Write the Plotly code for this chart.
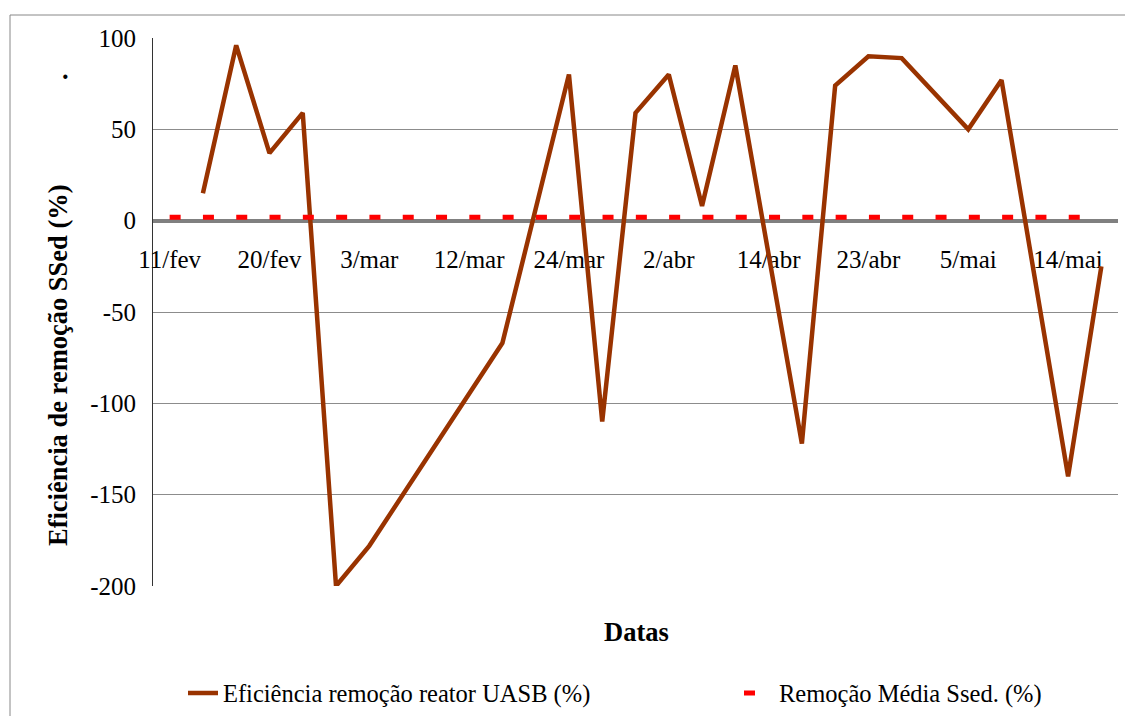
import plotly.graph_objects as go

# ---- data ----
datas = ["11/fev", "14/fev", "17/fev", "20/fev", "23/fev", "26/fev",
         "3/mar", "6/mar", "9/mar", "12/mar", "16/mar", "20/mar",
         "24/mar", "27/mar", "30/mar", "2/abr", "6/abr", "10/abr",
         "14/abr", "17/abr", "20/abr", "23/abr", "27/abr", "1/mai",
         "5/mai", "8/mai", "11/mai", "14/mai", "17/mai"]

eficiencia_uasb = [None, 15, 96, 37, 59, -200, -178, None, None, None,
                   -67, None, 80, -110, 59, 80, 8, 85, None, -122,
                   74, 90, 89, None, 50, 77, None, -140, -25]

remocao_media = [1.9] * len(datas)

tick_labels = ["11/fev", "20/fev", "3/mar", "12/mar", "24/mar",
               "2/abr", "14/abr", "23/abr", "5/mai", "14/mai"]

y_ticks = [100, 50, 0, -50, -100, -150, -200]
y_tick_text = ["100", "50", "0", "-50", "-100", "-150", "-200"]

FONT = "Liberation Serif"

fig = go.Figure()
fig.add_trace(go.Scatter(
    x=datas, y=eficiencia_uasb, mode="lines", connectgaps=True,
    name="Eficiência remoção reator UASB (%)",
    line=dict(color="#993300", width=4.5),
    legend="legend"))
fig.add_trace(go.Scatter(
    x=datas, y=remocao_media, mode="lines",
    name="Remoção Média Ssed. (%)",
    line=dict(color="#FF0000", width=5, dash="11px,22.3px"),
    legend="legend2"))

# page body has an 8px margin; lay out in reference pixel coordinates
OFF = 8
W, H = 1133 - OFF, 716 - OFF
PL, PR, PT, PB = 153, 1118, 38, 586   # plot area in reference pixels
pw, ph = PR - PL, PB - PT
L, T = PL - OFF, PT - OFF
R, B = W - (PR - OFF), H - (PB - OFF)

def px_x(x):
    return (x - PL) / pw

def px_y(y):
    return (PB - y) / ph

fig.update_layout(
    width=W, height=H,
    margin=dict(l=L, r=R, t=T, b=B, autoexpand=False),
    paper_bgcolor="white", plot_bgcolor="white",
    font=dict(family=FONT, size=25, color="black"),
    xaxis=dict(
        type="category", categoryorder="array", categoryarray=datas,
        range=[-0.5, len(datas) - 0.5],
        tickmode="array", tickvals=tick_labels, ticktext=tick_labels,
        anchor="free", position=200 / 300,
        showline=True, linecolor="#808080", linewidth=4,
        showgrid=False, zeroline=False, ticks="",
        ticklabelstandoff=15,
        layer="below traces",
        tickfont=dict(family=FONT, size=25, color="black"),
    ),
    yaxis=dict(
        range=[-200, 100], tickmode="array", tickvals=y_ticks,
        ticktext=y_tick_text,
        showgrid=True, gridcolor="#8c8c8c", gridwidth=1,
        zeroline=False, showline=True, linecolor="#333333", linewidth=1,
        ticks="", ticklabelstandoff=11, layer="below traces",
        tickfont=dict(family=FONT, size=25, color="black"),
    ),
    showlegend=True,
    legend=dict(orientation="h", x=px_x(183), y=px_y(693),
                xanchor="left", yanchor="middle",
                font=dict(family=FONT, size=24.5, color="black"),
                bgcolor="rgba(0,0,0,0)"),
    legend2=dict(orientation="h", x=px_x(739), y=px_y(693),
                 xanchor="left", yanchor="middle",
                 font=dict(family=FONT, size=24.5, color="black"),
                 bgcolor="rgba(0,0,0,0)"),
    shapes=[dict(type="rect", xref="paper", yref="paper",
                 x0=px_x(10), x1=px_x(1150), y0=px_y(740), y1=px_y(15),
                 line=dict(color="#888888", width=1), layer="below")],
    annotations=[
        dict(text="<b>Datas</b>", xref="paper", yref="paper",
             x=px_x(636), y=px_y(632), xanchor="center", yanchor="middle",
             showarrow=False, font=dict(family=FONT, size=26.5)),
        dict(text="<b>Eficiência de remoção SSed (%)</b>", xref="paper",
             yref="paper", x=px_x(58), y=px_y(365), xanchor="center",
             yanchor="middle", textangle=-90, showarrow=False,
             font=dict(family=FONT, size=26.5)),
        dict(text="<b>.</b>", xref="paper", yref="paper",
             x=px_x(65), y=px_y(70), xanchor="center", yanchor="middle",
             showarrow=False, font=dict(family=FONT, size=26.5)),
    ],
)

fig.write_html("out.html")
